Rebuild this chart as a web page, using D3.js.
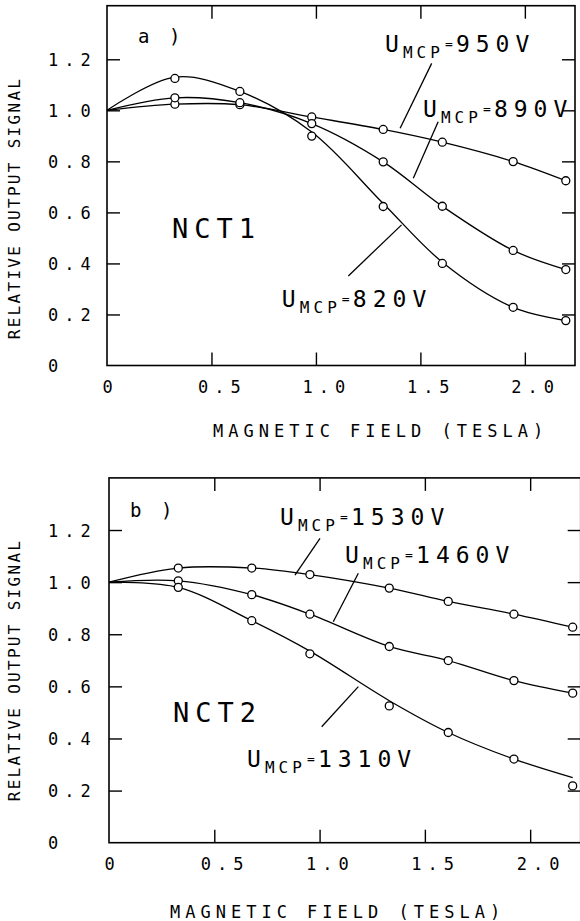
<!DOCTYPE html>
<html><head><meta charset="utf-8">
<script src="https://cdn.jsdelivr.net/npm/d3@7"></script>
<style>
body{margin:0;background:#fff}
svg{display:block}
text{font-family:"DejaVu Sans Mono",monospace;fill:#000}
</style>
</head><body>
<svg id="c" width="580" height="921"></svg>
<script>
// ---------- data ----------
const xTickValues = [0, 0.5, 1.0, 1.5, 2.0];
const xTickLabels = ["0", "0.5", "1.0", "1.5", "2.0"];
const yTickValues = [0, 0.2, 0.4, 0.6, 0.8, 1.0, 1.2];
const yTickLabels = ["0", "0.2", "0.4", "0.6", "0.8", "1.0", "1.2"];

// panel a) NCT1
const fieldA = [0, 0.325, 0.636, 0.98, 1.322, 1.605, 1.944, 2.196];
const nct1U820 = [1.0, 1.125, 1.074, 0.899, 0.623, 0.400, 0.228, 0.176];
const nct1U890 = [1.0, 1.049, 1.030, 0.948, 0.798, 0.624, 0.451, 0.376];
const nct1U950 = [1.0, 1.024, 1.022, 0.974, 0.925, 0.875, 0.799, 0.724];
const nct1Fit820 = [1.0, 1.13, 1.074, 0.915, 0.635, 0.405, 0.228, 0.176];

// panel b) NCT2
const fieldB = [0, 0.329, 0.678, 0.954, 1.331, 1.611, 1.923, 2.202];
const nct2U1530 = [1.0, 1.054, 1.054, 1.029, 0.977, 0.926, 0.877, 0.827];
const nct2U1460 = [1.0, 1.005, 0.952, 0.877, 0.753, 0.699, 0.622, 0.574];
const nct2U1310 = [1.0, 0.980, 0.852, 0.725, 0.525, 0.423, 0.321, 0.218];
const nct2Fit1310 = [1.0, 0.980, 0.852, 0.735, 0.545, 0.423, 0.321, 0.250];

const voltagesA = ["950V", "890V", "820V"];
const voltagesB = ["1530V", "1460V", "1310V"];

// ---------- layout ----------
const svg = d3.select("#c");

const panels = [
  {
    tag: "a )", name: "NCT1",
    x0: 107, x1: 575, y0: 365.5, y1: 5.7, yMax: 1.41, xMax: 2.24,
    tagPos: [138, 43], namePos: [172, 238],
    xTitle: [213, 437], yTitleY: 208,
    field: fieldA,
    series: [
      {v: voltagesA[0], vals: nct1U950, fit: nct1U950, lab: [1.330, 1.228], lead: [[1.554, 1.184], [1.403, 0.930]]},
      {v: voltagesA[1], vals: nct1U890, fit: nct1U890, lab: [1.512, 0.974], lead: [[1.585, 0.955], [1.466, 0.734]]},
      {v: voltagesA[2], vals: nct1U820, fit: nct1Fit820, lab: [0.837, 0.230], lead: [[1.41, 0.551], [1.155, 0.351]]}
    ]
  },
  {
    tag: "b )", name: "NCT2",
    x0: 109, x1: 580.7, y0: 842.7, y1: 477.9, yMax: 1.40, xMax: 2.24,
    tagPos: [130, 517], namePos: [173, 722],
    xTitle: [170, 918], yTitleY: 670,
    field: fieldB,
    series: [
      {v: voltagesB[0], vals: nct2U1530, fit: nct2U1530, lab: [0.812, 1.219], lead: [[1.002, 1.168], [0.883, 1.027]]},
      {v: voltagesB[1], vals: nct2U1460, fit: nct2U1460, lab: [1.121, 1.073], lead: [[1.184, 1.034], [1.065, 0.848]]},
      {v: voltagesB[2], vals: nct2U1310, fit: nct2Fit1310, lab: [0.655, 0.292], lead: [[1.184, 0.599], [1.010, 0.445]]}
    ]
  }
];

panels.forEach(p => {
  const x = d3.scaleLinear().domain([0, p.xMax]).range([p.x0, p.x1]);
  const y = d3.scaleLinear().domain([0, p.yMax]).range([p.y0, p.y1]);
  const g = svg.append("g");

  // frame
  g.append("rect").attr("x", p.x0).attr("y", p.y1)
    .attr("width", p.x1 - p.x0).attr("height", p.y0 - p.y1)
    .attr("fill", "none").attr("stroke", "#000").attr("stroke-width", 1.6);

  const tk = 13;
  const ax = g.append("g").attr("transform", `translate(0,${p.y0})`)
    .call(d3.axisBottom(x).tickValues(xTickValues).tickSizeInner(-tk).tickSizeOuter(0)
      .tickFormat((d, i) => xTickLabels[i]));
  const axT = g.append("g").attr("transform", `translate(0,${p.y1})`)
    .call(d3.axisTop(x).tickValues(xTickValues.slice(1)).tickSizeInner(-tk).tickSizeOuter(0).tickFormat(""));
  const ay = g.append("g").attr("transform", `translate(${p.x0},0)`)
    .call(d3.axisLeft(y).tickValues(yTickValues).tickSizeInner(-tk).tickSizeOuter(0)
      .tickFormat((d, i) => yTickLabels[i]));
  const ayR = g.append("g").attr("transform", `translate(${p.x1},0)`)
    .call(d3.axisRight(y).tickValues(yTickValues.slice(1)).tickSizeInner(-tk).tickSizeOuter(0).tickFormat(""));

  [ax, axT, ay, ayR].forEach(a => {
    a.select(".domain").remove();
    a.selectAll("line").attr("stroke", "#000").attr("stroke-width", 1.4);
    a.attr("font-family", null).attr("font-size", null);
  });
  ax.selectAll(".tick").filter(d => d === 0).select("line").remove();
  ay.selectAll(".tick").filter(d => d === 0).select("line").remove();

  ax.selectAll("text")
    .attr("text-anchor", "start")
    .attr("dy", 0)
    .attr("x", d => d === 0 ? -5 : -14)
    .attr("y", 27.5)
    .style("font-size", "17px").style("letter-spacing", "6px");
  ay.selectAll("text")
    .attr("text-anchor", "start")
    .attr("x", 48 - p.x0).attr("dy", "0.36em")
    .style("font-size", "17px").style("letter-spacing", "6px");

  // titles
  g.append("text").attr("x", p.xTitle[0]).attr("y", p.xTitle[1])
    .style("font-size", "17px").style("letter-spacing", "5px")
    .text("MAGNETIC FIELD (TESLA)");
  g.append("text")
    .attr("transform", `translate(20,${p.yTitleY}) rotate(-90)`)
    .attr("text-anchor", "middle")
    .style("font-size", "16px").style("letter-spacing", "2.3px")
    .text("RELATIVE OUTPUT SIGNAL");

  // tag and name
  g.append("text").attr("x", p.tagPos[0]).attr("y", p.tagPos[1])
    .style("font-size", "19px").style("letter-spacing", "4px").text(p.tag);
  g.append("text").attr("x", p.namePos[0]).attr("y", p.namePos[1])
    .style("font-size", "27px").style("letter-spacing", "6px").text(p.name);

  // curves and markers
  const line = d3.line().x(d => x(d[0])).y(d => y(d[1])).curve(d3.curveCatmullRom.alpha(0.5));
  p.series.forEach(s => {
    const fitPts = p.field.map((f, i) => [f, s.fit[i]]);
    g.append("path").attr("d", line(fitPts)).attr("fill", "none")
      .attr("stroke", "#000").attr("stroke-width", 1.3);
    const pts = p.field.map((f, i) => [f, s.vals[i]]).filter(d => d[0] > 0);
    g.selectAll(null).data(pts).enter().append("circle")
      .attr("cx", d => x(d[0])).attr("cy", d => y(d[1])).attr("r", 4)
      .attr("fill", "#fff").attr("stroke", "#000").attr("stroke-width", 1.3);
  });

  // annotations
  p.series.forEach(s => {
    g.append("line")
      .attr("x1", x(s.lead[0][0])).attr("y1", y(s.lead[0][1]))
      .attr("x2", x(s.lead[1][0])).attr("y2", y(s.lead[1][1]))
      .attr("stroke", "#000").attr("stroke-width", 1.3);
    const lx = x(s.lab[0]), ly = y(s.lab[1]);
    const t = g.append("g").attr("transform", `translate(${lx},${ly})`);
    t.append("text").attr("x", 0).attr("y", 0).style("font-size", "23px").text("U");
    t.append("text").attr("x", 18).attr("y", 6).style("font-size", "16px").style("letter-spacing", "4px").text("MCP");
    t.append("text").attr("x", 60).attr("y", -4).style("font-size", "13px").text("=");
    t.append("text").attr("x", 71).attr("y", 0).style("font-size", "23px").style("letter-spacing", "6px").text(s.v);
  });
});
</script>
</body></html>
